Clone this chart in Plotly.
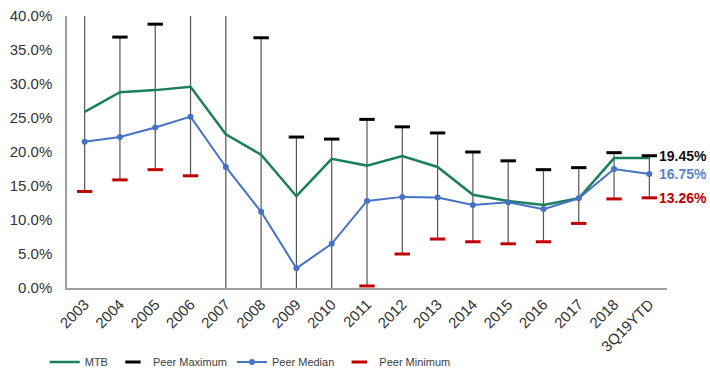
import plotly.graph_objects as go

categories = ["2003", "2004", "2005", "2006", "2007", "2008", "2009", "2010", "2011",
              "2012", "2013", "2014", "2015", "2016", "2017", "2018", "3Q19YTD"]
mtb = [25.9, 28.8, 29.1, 29.6, 22.6, 19.6, 13.5, 19.0, 18.0, 19.4, 17.8, 13.7, 12.8, 12.2, 13.2, 19.1, 19.1]
peer_median = [21.5, 22.2, 23.6, 25.2, 17.8, 11.2, 2.9, 6.5, 12.8, 13.4, 13.3, 12.2, 12.6, 11.6, 13.2, 17.5, 16.75]
peer_max = [46.0, 36.9, 38.8, 44.0, 48.0, 36.8, 22.2, 21.9, 24.8, 23.7, 22.8, 20.0, 18.7, 17.4, 17.7, 19.9, 19.45]
peer_min = [14.2, 15.9, 17.4, 16.5, -8.0, -25.0, -12.0, -6.0, 0.3, 5.0, 7.2, 6.8, 6.5, 6.8, 9.5, 13.1, 13.26]
y_ticks = [0, 5, 10, 15, 20, 25, 30, 35, 40]

GREEN = "#1B7F5E"
BLUE = "#4472C4"
RED = "#C00000"
FONT = "Liberation Sans, Arial, sans-serif"

fig = go.Figure()

# high-low lines
hx, hy = [], []
for c, lo, hi in zip(categories, peer_min, peer_max):
    hx += [c, c, None]
    hy += [lo, hi, None]
fig.add_trace(go.Scatter(x=hx, y=hy, mode="lines", line=dict(color="#555555", width=1.2),
                         showlegend=False, hoverinfo="skip"))

fig.add_trace(go.Scatter(x=categories, y=mtb, mode="lines", name="MTB",
                         line=dict(color=GREEN, width=2.5)))
fig.add_trace(go.Scatter(x=categories, y=peer_max, mode="markers", name="Peer Maximum",
                         marker=dict(symbol="line-ew", size=11, line=dict(color="black", width=3))))
fig.add_trace(go.Scatter(x=categories, y=peer_median, mode="lines+markers", name="Peer Median",
                         line=dict(color=BLUE, width=2), marker=dict(color=BLUE, size=6)))
fig.add_trace(go.Scatter(x=categories, y=peer_min, mode="markers", name="Peer Minimum",
                         marker=dict(symbol="line-ew", size=11, line=dict(color=RED, width=3))))

for val, col in [(peer_max[-1], "#111111"), (peer_median[-1], "#5B84C8"), (peer_min[-1], RED)]:
    fig.add_annotation(x=categories[-1], y=val, text=f"<b>{val:.2f}%</b>", showarrow=False,
                       xanchor="left", xshift=8, font=dict(family=FONT, size=14, color=col))

fig.update_layout(
    width=710, height=374,
    margin=dict(l=67, r=43, t=16, b=86, autoexpand=False),
    paper_bgcolor="white", plot_bgcolor="white",
    font=dict(family=FONT, size=14, color="#333333"),
    showlegend=True,
    legend=dict(orientation="h", xref="container", x=0.063, xanchor="left",
                yref="container", y=0.032, yanchor="middle",
                font=dict(size=11, color="#404040"), bgcolor="rgba(0,0,0,0)",
                itemwidth=30, tracegroupgap=0),
)
fig.update_xaxes(type="category", tickangle=-45, showgrid=False, showline=True,
                 linecolor="#A0A0A0", linewidth=1.5, ticks="", tickfont=dict(size=15),
                 range=[-0.5, len(categories) - 0.5], automargin=False)
fig.update_yaxes(range=[0, 40], tickvals=y_ticks, ticktext=[f"{v:.1f}%" for v in y_ticks],
                 showgrid=False, showline=True, linecolor="#A0A0A0", linewidth=1.5,
                 zeroline=False, ticks="", tickfont=dict(size=15), automargin=False,
                 ticklabelstandoff=10)

fig.write_html("out.html", config={"displayModeBar": False},
               post_script="document.body.style.margin='0';")
